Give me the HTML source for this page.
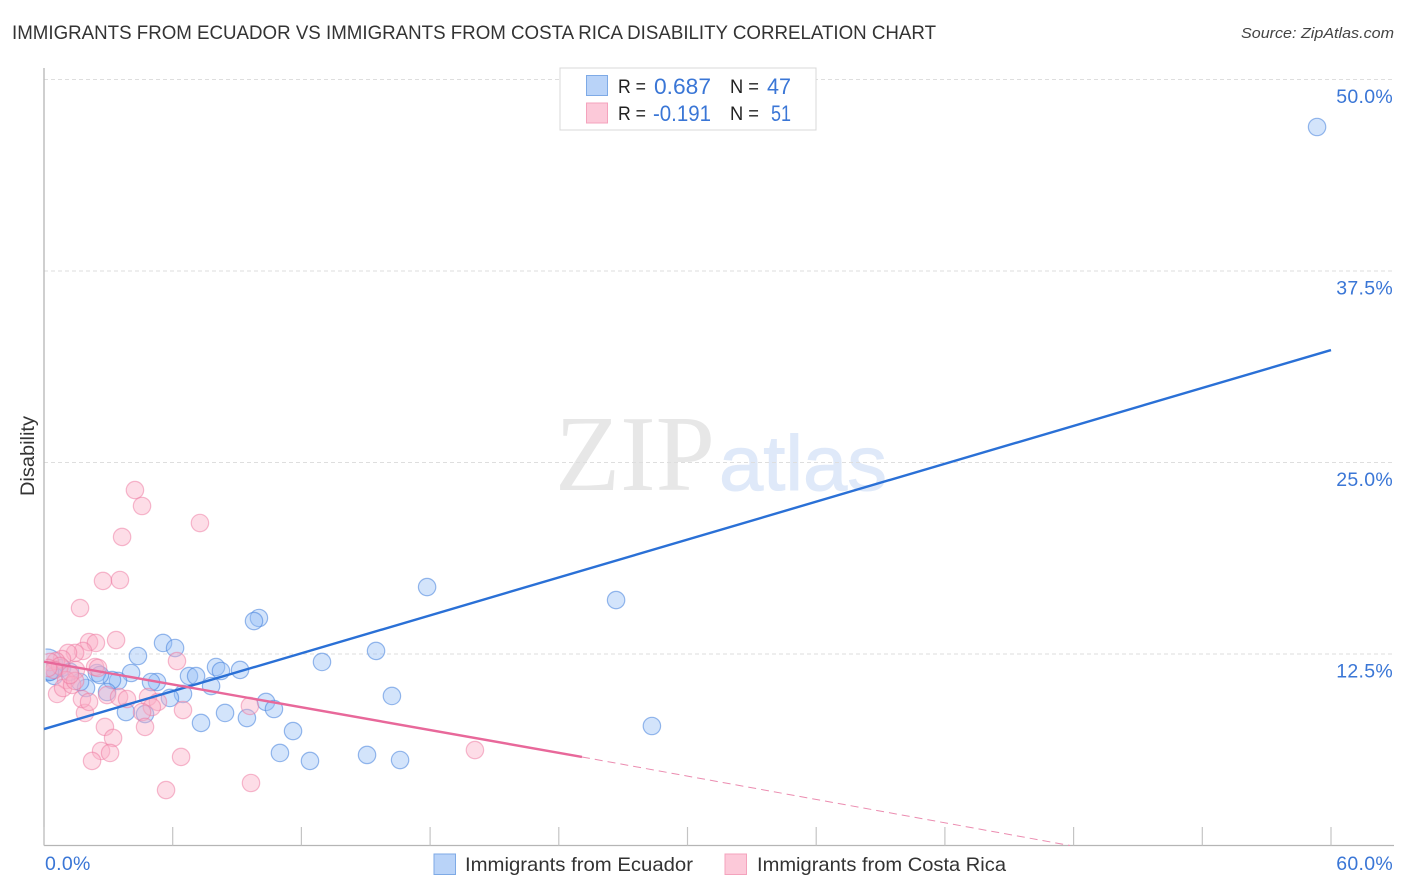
<!DOCTYPE html>
<html>
<head>
<meta charset="utf-8">
<title>Immigrants from Ecuador vs Immigrants from Costa Rica Disability Correlation Chart</title>
<style>
html,body{margin:0;padding:0;background:#fff;}
svg{display:block;font-family:"Liberation Sans",sans-serif;}
</style>
</head>
<body>
<svg id="chart" width="1406" height="892" viewBox="0 0 1406 892" xmlns="http://www.w3.org/2000/svg">
  <defs><clipPath id="plot-clip"><rect x="45.5" y="60" width="1350" height="785"/></clipPath></defs>
  <text x="12" y="39" font-size="19" fill="#333" textLength="924" lengthAdjust="spacingAndGlyphs">IMMIGRANTS FROM ECUADOR VS IMMIGRANTS FROM COSTA RICA DISABILITY CORRELATION CHART</text>
  <text x="1241" y="38" font-size="15" font-style="italic" fill="#444" textLength="153" lengthAdjust="spacingAndGlyphs">Source: ZipAtlas.com</text>
  <g>
    <text x="555" y="490" font-family="'Liberation Serif',serif" font-size="108" fill="#e7e7e7" textLength="160" lengthAdjust="spacingAndGlyphs">ZIP</text>
    <text x="719" y="490" font-size="78" fill="#dfe9f9" stroke="#dfe9f9" stroke-width="1" textLength="168" lengthAdjust="spacingAndGlyphs">atlas</text>
  </g>
  <g id="grid"></g>
  <g id="axes"></g>
  <g id="marks" clip-path="url(#plot-clip)"></g>
  <g id="lines"></g>
  <g id="labels"></g>
  <text transform="translate(34,456) rotate(-90)" font-size="19" fill="#333" text-anchor="middle" textLength="80" lengthAdjust="spacingAndGlyphs">Disability</text>

  <g>
    <rect x="560" y="68" width="256" height="62" fill="#fff" stroke="#d8d8d8"/>
    <rect x="586.5" y="75.5" width="21" height="20" fill="#b9d3f8" stroke="#7eaae6"/>
    <rect x="586.5" y="103" width="21" height="20" fill="#fcc9d9" stroke="#f4a3bd"/>
    <text x="618" y="93" font-size="19" fill="#222" textLength="28" lengthAdjust="spacingAndGlyphs">R =</text>
    <text x="654" y="94" font-size="22" fill="#3a76d6" textLength="57" lengthAdjust="spacingAndGlyphs">0.687</text>
    <text x="730" y="93" font-size="19" fill="#222" textLength="29" lengthAdjust="spacingAndGlyphs">N =</text>
    <text x="767" y="94" font-size="22" fill="#3a76d6" textLength="24" lengthAdjust="spacingAndGlyphs">47</text>
    <text x="618" y="120" font-size="19" fill="#222" textLength="28" lengthAdjust="spacingAndGlyphs">R =</text>
    <text x="653" y="121" font-size="22" fill="#3a76d6" textLength="58" lengthAdjust="spacingAndGlyphs">-0.191</text>
    <text x="730" y="120" font-size="19" fill="#222" textLength="29" lengthAdjust="spacingAndGlyphs">N =</text>
    <text x="771" y="121" font-size="22" fill="#3a76d6" textLength="20" lengthAdjust="spacingAndGlyphs">51</text>
  </g>

  <g>
    <rect x="434" y="854" width="21.5" height="20.5" fill="#b9d3f8" stroke="#7eaae6"/>
    <text x="465" y="871" font-size="19.5" fill="#333" textLength="228" lengthAdjust="spacingAndGlyphs">Immigrants from Ecuador</text>
    <rect x="725" y="854" width="21.5" height="20.5" fill="#fcc9d9" stroke="#f4a3bd"/>
    <text x="757" y="871" font-size="19.5" fill="#333" textLength="249" lengthAdjust="spacingAndGlyphs">Immigrants from Costa Rica</text>
  </g>
</svg>
<script>
const ecuadorX = [59.35,17.86,26.67,10.02,9.79,15.48,12.96,5.55,6.11,4.38,8.02,8.25,9.14,6.76,7.09,4.06,5.27,4.99,3.45,3.17,2.47,6.48,7.79,5.87,2.94,1.96,1.68,16.22,10.35,10.72,8.44,9.46,3.82,4.71,7.32,11.61,28.34,11.00,12.40,15.06,16.60,0.14,0.84,0.47,1.21,0.28,2.61];
const ecuadorY = [46.90,16.87,16.02,14.85,14.65,12.70,11.98,13.22,12.89,12.37,11.65,11.39,11.46,11.06,11.06,11.26,10.67,10.67,10.74,10.80,11.26,9.89,10.41,9.63,10.02,10.28,10.67,9.76,9.37,8.91,8.65,8.32,8.71,8.58,8.00,7.47,7.80,6.04,5.52,5.91,5.58,11.78,11.60,11.07,11.34,11.34,11.13];
const ecuadorWeight = [1,1,1,1,1,1,1,1,1,1,1,1,1,1,1,1,1,1,1,1,1,1,1,1,1,1,1,1,1,1,1,1,1,1,1,1,1,1,1,1,1,3.4,1,1,1,1,1];
const costaRicaX = [4.24,4.57,7.27,3.64,2.75,3.54,1.68,3.36,2.10,2.42,1.82,1.45,1.12,6.20,2.38,2.52,0.84,0.56,0.28,0.75,1.49,1.03,0.61,0.89,1.31,1.45,2.94,3.50,3.87,4.85,5.31,5.03,4.57,6.48,9.60,1.91,1.77,2.10,2.84,4.71,3.22,2.66,3.08,2.24,6.39,20.09,5.69,9.65,0.47,0.19,1.21];
const costaRicaY = [23.20,22.16,21.05,20.14,17.27,17.33,15.50,13.41,13.28,13.22,12.70,12.57,12.57,12.04,11.65,11.59,12.17,12.04,11.98,11.72,11.46,10.80,9.89,10.28,10.48,10.74,9.82,9.69,9.56,9.69,9.37,9.04,8.71,8.84,9.11,8.65,9.56,9.37,7.74,7.74,7.02,6.17,6.04,5.52,5.78,6.23,3.62,4.08,11.46,11.59,11.13];
const ecuadorTrendX = [0,60];
const ecuadorTrendY = [7.6,32.34];
const costaRicaSolidX = [0,25.08];
const costaRicaSolidY = [12.0,5.78];
const costaRicaDashX = [25.08,47.83];
const costaRicaDashY = [5.78,0];
const yTicks = [12.5,25,37.5,50];
const yTickLabels = ["12.5%","25.0%","37.5%","50.0%"];
const xTicks = [0,6,12,18,24,30,36,42,48,54,60];
const xEndTicks = [0,60];
const xEndLabels = ["0.0%","60.0%"];

const NS = "http://www.w3.org/2000/svg";
const sx = v => 44 + v * 21.45;
const sy = v => 845.5 - v * 15.32;
const R = 8.7;
function make(tag, parent, attrs) {
  const el = document.createElementNS(NS, tag);
  for (const k in attrs) el.setAttribute(k, attrs[k]);
  parent.appendChild(el);
  return el;
}
const grid = document.getElementById("grid");
const axes = document.getElementById("axes");
const marks = document.getElementById("marks");
const lines = document.getElementById("lines");
const labels = document.getElementById("labels");

yTicks.forEach(function (t, i) {
  const g = make("line", grid, {x1: 44, x2: 1394, y1: sy(t), y2: sy(t), stroke: "#dedede", "stroke-width": 1, "stroke-dasharray": "4 3"});
  
  
  const l = make("text", labels, {x: 1393, y: sy(t) + 23.5, "font-size": 19.5, "letter-spacing": 0.3, fill: "#3a76d6", "text-anchor": "end"});
  l.textContent = yTickLabels[i];
  
  
});

const yAxis = make("line", axes, {x1: 44, x2: 44, y1: 68, y2: 845.5, stroke: "#b5b5b5", "stroke-width": 1.3});


const xAxis = make("line", axes, {x1: 44, x2: 1394, y1: 845.5, y2: 845.5, stroke: "#b5b5b5", "stroke-width": 1.3});


xTicks.forEach(function (t) {
  const k = make("line", axes, {x1: sx(t), x2: sx(t), y1: 827, y2: 845.5, stroke: "#c4c4c4", "stroke-width": 1.2});
  
  
});
xEndTicks.forEach(function (t, i) {
  const l = make("text", labels, {x: i === 0 ? 45 : 1393, y: 870, "font-size": 19.5, "letter-spacing": 0.3, fill: "#3a76d6", "text-anchor": i === 0 ? "start" : "end"});
  l.textContent = xEndLabels[i];
  
  
});

ecuadorX.forEach(function (v, i) {
  const c = make("circle", marks, {cx: sx(v), cy: sy(ecuadorY[i]), r: R * Math.sqrt(ecuadorWeight[i]), fill: "rgba(150,190,245,0.42)", stroke: "rgba(70,130,220,0.55)", "stroke-width": 1.2});
  
  
});
costaRicaX.forEach(function (v, i) {
  const c = make("circle", marks, {cx: sx(v), cy: sy(costaRicaY[i]), r: R, fill: "rgba(250,175,198,0.42)", stroke: "rgba(238,120,160,0.5)", "stroke-width": 1.2});
  
  
});

const t1 = make("line", lines, {x1: sx(ecuadorTrendX[0]), y1: sy(ecuadorTrendY[0]), x2: sx(ecuadorTrendX[1]), y2: sy(ecuadorTrendY[1]), stroke: "#2a70d6", "stroke-width": 2.4});


const t2 = make("line", lines, {x1: sx(costaRicaSolidX[0]), y1: sy(costaRicaSolidY[0]), x2: sx(costaRicaSolidX[1]), y2: sy(costaRicaSolidY[1]), stroke: "#e8689a", "stroke-width": 2.4});


const t3 = make("line", lines, {x1: sx(costaRicaDashX[0]), y1: sy(costaRicaDashY[0]), x2: sx(costaRicaDashX[1]), y2: sy(costaRicaDashY[1]), stroke: "#eb8cb0", "stroke-width": 1, "stroke-dasharray": "8 5"});


</script>
</body>
</html>
